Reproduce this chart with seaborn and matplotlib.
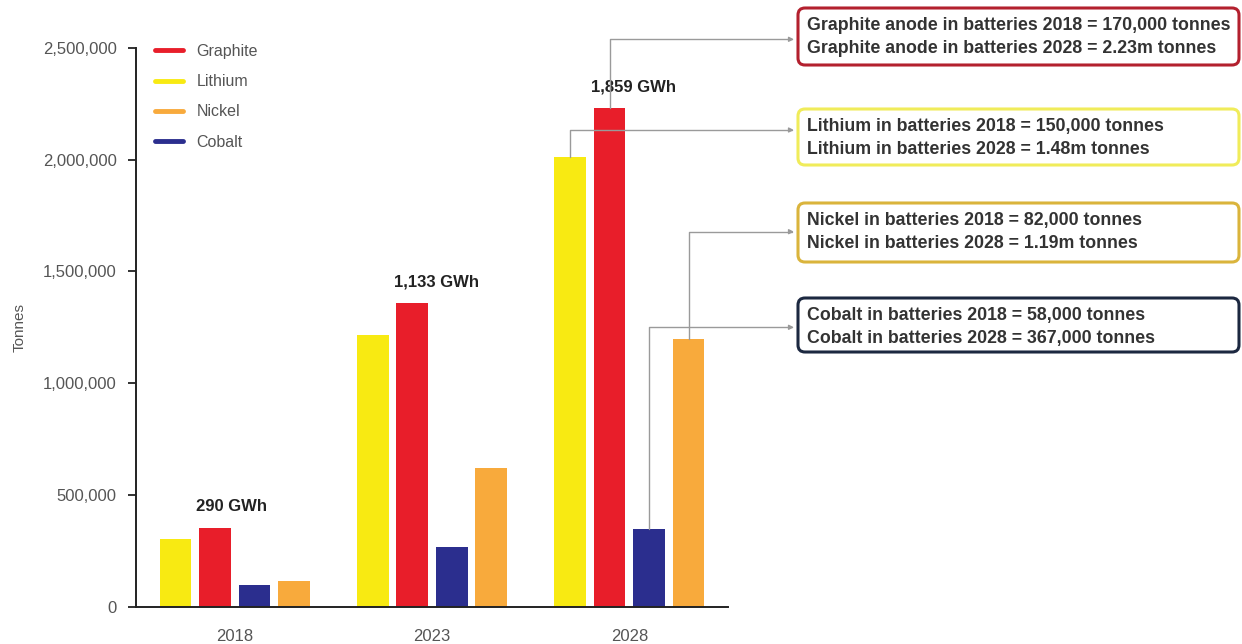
import numpy as np
import pandas as pd
import matplotlib
matplotlib.use("Agg")
import matplotlib.pyplot as plt
import seaborn as sns
from matplotlib.lines import Line2D
from matplotlib.patches import FancyBboxPatch
from matplotlib.colors import to_rgba

# ---------------- data ----------------
years = ["2018", "2023", "2028"]
bar_order = ["Lithium", "Graphite", "Cobalt", "Nickel"]
legend_order = ["Graphite", "Lithium", "Nickel", "Cobalt"]
lithium = [303000, 1215000, 2012000]
graphite = [352000, 1358000, 2230000]
cobalt = [98000, 266000, 346000]
nickel = [116000, 621000, 1196000]
gwh_labels = ["290 GWh", "1,133 GWh", "1,859 GWh"]
yticks = [0, 500000, 1000000, 1500000, 2000000, 2500000]

graphite_box = ["Graphite anode in batteries 2018 = 170,000 tonnes",
                "Graphite anode in batteries 2028 = 2.23m tonnes"]
lithium_box = ["Lithium in batteries 2018 = 150,000 tonnes",
               "Lithium in batteries 2028 = 1.48m tonnes"]
nickel_box = ["Nickel in batteries 2018 = 82,000 tonnes",
              "Nickel in batteries 2028 = 1.19m tonnes"]
cobalt_box = ["Cobalt in batteries 2018 = 58,000 tonnes",
              "Cobalt in batteries 2028 = 367,000 tonnes"]

colors = {"Graphite": "#e81e2a", "Lithium": "#f8ea12",
          "Nickel": "#f8aa3c", "Cobalt": "#2b2e8e"}
box_edges = {"Graphite": "#b3202e", "Lithium": "#f0ec5a",
             "Nickel": "#dab43c", "Cobalt": "#1c2840"}

values = {"Lithium": lithium, "Graphite": graphite,
          "Cobalt": cobalt, "Nickel": nickel}
df = pd.DataFrame([(y, m, values[m][i]) for m in bar_order
                   for i, y in enumerate(years)],
                  columns=["year", "metal", "tonnes"])

# ---------------- figure ----------------
sns.set_theme(style="white")
plt.rcParams["font.family"] = ["Liberation Sans", "DejaVu Sans"]

W, H = 1242, 644
fig = plt.figure(figsize=(W / 100, H / 100), dpi=100)
ax = fig.add_axes([136 / W, 1 - 606.7 / H, 592 / W, 558.7 / H])

sns.barplot(data=df, x="year", y="tonnes", hue="metal", hue_order=bar_order,
            order=years, palette=colors, saturation=1, width=0.8, gap=0.2,
            errorbar=None, legend=False, linewidth=0, ax=ax)

ax.set_xlim(-0.5, 2.5)
ax.set_ylim(0, 2500000)
ax.set_yticks(yticks)
ax.set_yticklabels([f"{v:,}" for v in yticks])
ax.set_xticks(range(len(years)))
ax.set_xticklabels(years)
ax.set_xticks([-0.5, 0.5, 1.5, 2.5], minor=True)

ax.tick_params(axis="x", which="major", length=0, pad=16,
               labelsize=12, labelcolor="#555555")
ax.tick_params(axis="x", which="minor", length=6, width=1.3,
               color="#222222", direction="out")
ax.tick_params(axis="y", length=6, width=1.3, color="#222222",
               direction="out", pad=8, labelsize=12, labelcolor="#555555",
               left=True)
sns.despine(ax=ax)
for s in ["left", "bottom"]:
    ax.spines[s].set_color("#222222")
    ax.spines[s].set_linewidth(1.4)
ax.set_xlabel("")
ax.set_ylabel("Tonnes", fontsize=11, color="#555555")
ax.yaxis.set_label_coords((27 - 136) / 592, 0.5)
ax.grid(False)

# legend
handles = [Line2D([0], [0], color=colors[m], lw=3.5) for m in legend_order]
ax.legend(handles, legend_order, loc="upper left",
          bbox_to_anchor=((155 - 136) / 592, (606.7 - 44) / 558.7),
          frameon=False, fontsize=11.5, labelcolor="#555555",
          handlelength=1.75, handletextpad=0.85, labelspacing=0.95,
          borderpad=0, borderaxespad=0)

# locate bars
bars = {m: [] for m in bar_order}
for p in ax.patches:
    fc = p.get_facecolor()
    for m in bar_order:
        if np.allclose(fc[:3], to_rgba(colors[m])[:3], atol=0.02):
            bars[m].append(p)
for m in bar_order:
    bars[m].sort(key=lambda p: p.get_x())

# GWh labels
for i, lab in enumerate(gwh_labels):
    p = bars["Graphite"][i]
    ax.text(p.get_x() - 0.015, graphite[i] + 97000, lab, ha="left",
            va="center", fontsize=12, fontweight="bold", color="#222222")

# overlay for call-outs
ov = fig.add_axes([0, 0, 1, 1], zorder=5)
ov.set_xlim(0, W)
ov.set_ylim(H, 0)
ov.axis("off")

callouts = [
    ("Graphite", graphite_box, 8, 65, 39.3),
    ("Lithium", lithium_box, 109, 165, 130),
    ("Nickel", nickel_box, 203, 262, 231.7),
    ("Cobalt", cobalt_box, 298, 352, 327.3),
]
for m, lines, top, bot, ay in callouts:
    p = bars[m][-1]
    bx = p.get_x() + p.get_width() / 2
    by = p.get_height()
    ov.annotate("", xy=(794, ay), xycoords="data",
                xytext=(bx, by), textcoords=ax.transData,
                arrowprops=dict(arrowstyle="-|>", color="#9a9a9a", lw=1.0,
                                shrinkA=0, shrinkB=0, mutation_scale=7,
                                connectionstyle="angle,angleA=90,angleB=180,rad=0"))
    box = FancyBboxPatch((798, top), 1239 - 798, bot - top,
                         boxstyle="round,pad=0,rounding_size=7",
                         ec=box_edges[m], fc="white", lw=2.2)
    ov.add_patch(box)
    ov.text(807, top + 22, lines[0], fontsize=12.8, fontweight="bold",
            color="#333333", va="baseline", ha="left")
    ov.text(807, top + 44.5, lines[1], fontsize=12.8, fontweight="bold",
            color="#333333", va="baseline", ha="left")

fig.savefig("out.png", dpi=100, facecolor="white")
